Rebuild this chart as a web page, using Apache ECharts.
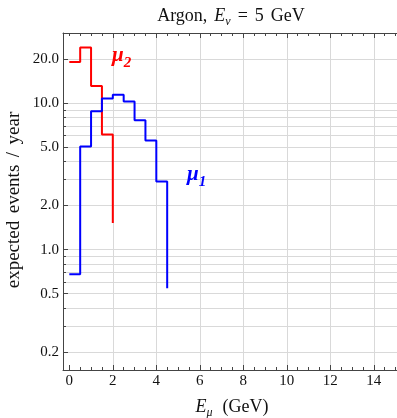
<!DOCTYPE html>
<html><head><meta charset="utf-8">
<script src="https://cdn.jsdelivr.net/npm/echarts@6/dist/echarts.min.js"></script>
<style>html,body{margin:0;padding:0;background:#fff}#c{width:397px;height:418px}</style>
</head><body><div id="c"></div>
<script>
// ---- data ----
const muOneX = [0, 0.5, 1, 1.5, 2, 2.5, 3, 3.5, 4, 4.5];
const muOneY = [0.68, 5.05, 8.8, 10.75, 11.4, 10.25, 7.65, 5.55, 2.92, 0.544];
const muTwoX = [0, 0.5, 1, 1.5, 2];
const muTwoY = [19.1, 24.0, 13.1, 6.1, 1.52];
const xLabelValues = [0, 2, 4, 6, 8, 10, 12, 14];
const xGridValues = [2, 4, 6, 8, 10, 12, 14];
const xMinorTicks = [0, 0.5, 1, 1.5, 2.5, 3, 3.5, 4.5, 5, 5.5, 6.5, 7, 7.5, 8.5, 9, 9.5, 10.5, 11, 11.5, 12.5, 13, 13.5, 14.5, 15];
const yLabelValues = [0.2, 0.5, 1, 2, 5, 10, 20];
const yMinorValues = [0.3, 0.4, 0.6, 0.7, 0.8, 0.9, 3, 4, 6, 7, 8, 9];
const xMin = -0.29, xMax = 15.204;
const yMin = 0.1507, yMax = 30.1;

const lg = v => Math.log10(v);
const FONT = 'Liberation Serif';
const frameColor = '#444';
const gridColor = '#d9d9d9';

const chart = echarts.init(document.getElementById('c'), null, {renderer: 'canvas'});

function xAxisDef(pos, ticks, len, opts) {
  return Object.assign({
    type: 'value', position: pos, min: xMin, max: xMax,
    axisLine: {show: true, onZero: false, lineStyle: {color: frameColor, width: 1}},
    axisTick: {show: true, inside: true, length: len, customValues: ticks, lineStyle: {color: frameColor, width: 1}},
    axisLabel: {show: false},
    splitLine: {show: false}
  }, opts || {});
}

const option = {
  animation: false,
  backgroundColor: '#fff',
  grid: {left: 63, top: 33, right: -3, bottom: 48, containLabel: false, outerBoundsMode: 'none'},
  xAxis: [
    xAxisDef('bottom', xLabelValues, 5, {
      axisLabel: {show: true, customValues: xLabelValues, fontFamily: FONT, fontSize: 15, color: '#111', margin: 4}
    }),
    xAxisDef('bottom', xMinorTicks, 3, {axisLine: {show: false, onZero: false}}),
    xAxisDef('top', xGridValues, 5, {
      splitLine: {show: true, lineStyle: {color: gridColor, width: 1}}
    }),
    xAxisDef('top', xMinorTicks, 3, {axisLine: {show: false, onZero: false}})
  ],
  yAxis: [
    {type: 'log', logBase: 10, min: yMin, max: yMax, show: false,
     axisLine: {onZero: false}, splitLine: {show: false}},
    {type: 'value', position: 'left', min: lg(yMin), max: lg(yMax),
     axisLine: {show: true, onZero: false, lineStyle: {color: frameColor, width: 1}},
     axisTick: {show: true, inside: true, length: 5, customValues: yLabelValues.map(lg), lineStyle: {color: frameColor}},
     axisLabel: {show: true, customValues: yLabelValues.map(lg), fontFamily: FONT, fontSize: 15, color: '#111', margin: 4,
                 formatter: v => Math.pow(10, v).toFixed(1)},
     splitLine: {show: true, lineStyle: {color: gridColor, width: 1}}},
    {type: 'value', position: 'left', min: lg(yMin), max: lg(yMax),
     axisLine: {show: false, onZero: false},
     axisTick: {show: true, inside: true, length: 3, customValues: yMinorValues.map(lg), lineStyle: {color: frameColor}},
     axisLabel: {show: false},
     splitLine: {show: true, lineStyle: {color: gridColor, width: 1}}}
  ],
  series: [
    {type: 'line', name: 'μ2', xAxisIndex: 0, yAxisIndex: 0, step: 'end', symbol: 'none',
     data: muTwoX.map((x, i) => [x, muTwoY[i]]),
     lineStyle: {color: '#ff0000', width: 2}, z: 3},
    {type: 'line', name: 'μ1', xAxisIndex: 0, yAxisIndex: 0, step: 'end', symbol: 'none',
     data: muOneX.map((x, i) => [x, muOneY[i]]),
     lineStyle: {color: '#0000ff', width: 2}, z: 4}
  ],
  graphic: [
    {type: 'text', x: 231, y: 16, z: 10,
     style: {text: '{n|Argon,}{w| }{i|E}{s|ν}{w| }{n|=}{w| }{n|5}{w| }{n|GeV}', align: 'center', verticalAlign: 'middle',
       rich: {
         n: {fontFamily: FONT, fontSize: 18, lineHeight: 24, fill: '#111'},
         w: {fontFamily: FONT, fontSize: 28, lineHeight: 24, fill: '#111'},
         i: {fontFamily: FONT, fontSize: 18, fontStyle: 'italic', lineHeight: 24, fill: '#111'},
         s: {fontFamily: FONT, fontSize: 12, fontStyle: 'italic', lineHeight: 14, verticalAlign: 'bottom', fill: '#111'}
       }}},
    {type: 'text', x: 14.5, y: 200, rotation: Math.PI / 2, z: 10,
     style: {text: '{t|expected}{w| }{t|events}{w| }{t|/}{w| }{t|year}', align: 'center', verticalAlign: 'middle',
       rich: {
         t: {fontFamily: FONT, fontSize: 19, lineHeight: 22, fill: '#111'},
         w: {fontFamily: FONT, fontSize: 30, lineHeight: 22, fill: '#111'}
       }}},
    {type: 'text', x: 232, y: 407, z: 10,
     style: {text: '{i|E}{s|μ}{w| }{n|(GeV)}', align: 'center', verticalAlign: 'middle',
       rich: {
         n: {fontFamily: FONT, fontSize: 18, lineHeight: 24, fill: '#111'},
         w: {fontFamily: FONT, fontSize: 40, lineHeight: 24, fill: '#111'},
         i: {fontFamily: FONT, fontSize: 18, fontStyle: 'italic', lineHeight: 24, fill: '#111'},
         s: {fontFamily: FONT, fontSize: 12, fontStyle: 'italic', lineHeight: 14, verticalAlign: 'bottom', fill: '#111'}
       }}},
    {type: 'text', x: 112, y: 56, z: 10,
     style: {text: '{a|μ}{b|2}', align: 'left', verticalAlign: 'middle',
       rich: {
         a: {fontFamily: FONT, fontSize: 21, fontStyle: 'italic', fontWeight: 'bold', lineHeight: 30, fill: '#ff0000'},
         b: {fontFamily: FONT, fontSize: 15, fontStyle: 'italic', fontWeight: 'bold', lineHeight: 15, verticalAlign: 'bottom', fill: '#ff0000'}
       }}},
    {type: 'text', x: 187, y: 174.5, z: 10,
     style: {text: '{a|μ}{b|1}', align: 'left', verticalAlign: 'middle',
       rich: {
         a: {fontFamily: FONT, fontSize: 21, fontStyle: 'italic', fontWeight: 'bold', lineHeight: 30, fill: '#0000ff'},
         b: {fontFamily: FONT, fontSize: 15, fontStyle: 'italic', fontWeight: 'bold', lineHeight: 15, verticalAlign: 'bottom', fill: '#0000ff'}
       }}}
  ]
};
chart.setOption(option);
</script>
</body></html>
